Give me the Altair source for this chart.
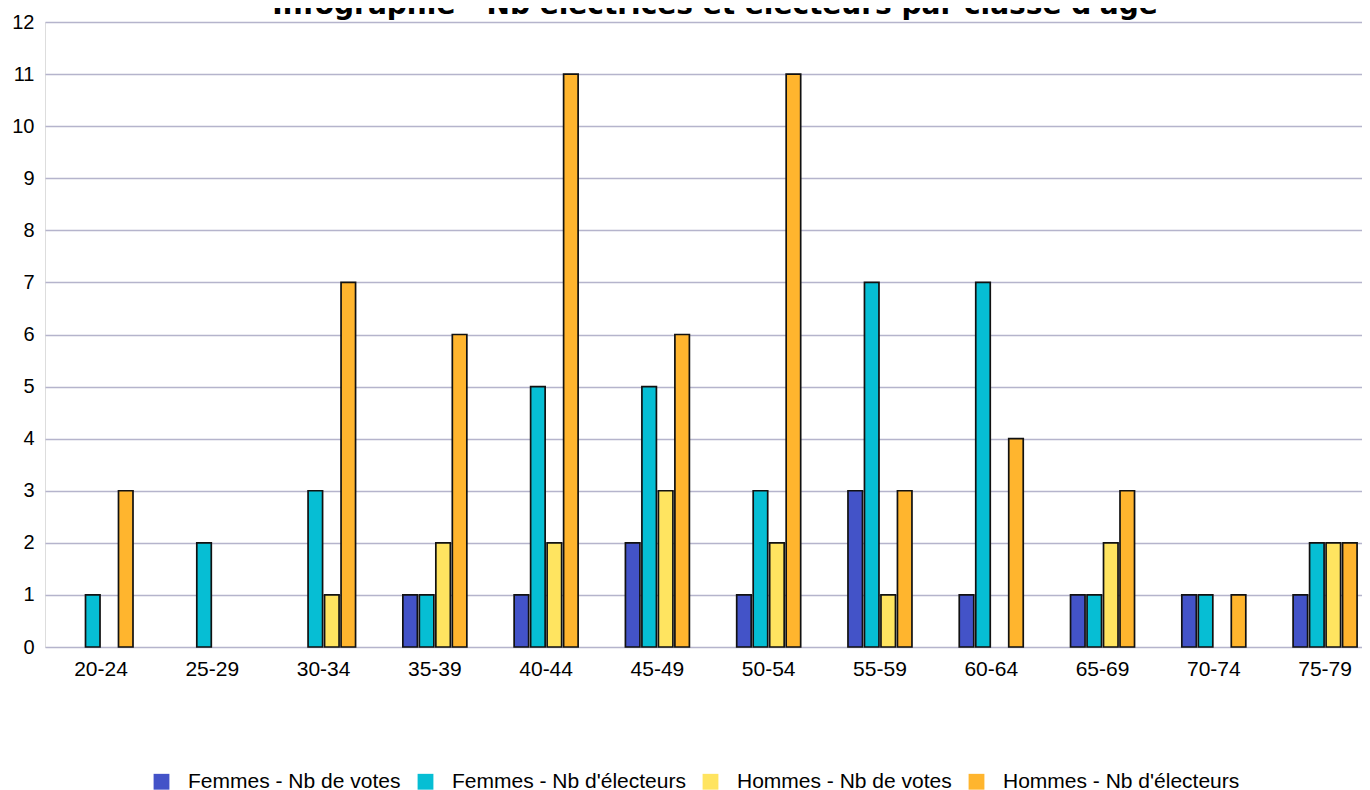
import altair as alt
import pandas as pd

categories = ["20-24", "25-29", "30-34", "35-39", "40-44", "45-49",
              "50-54", "55-59", "60-64", "65-69", "70-74", "75-79"]
series_names = ["Femmes - Nb de votes", "Femmes - Nb d'électeurs",
                "Hommes - Nb de votes", "Hommes - Nb d'électeurs"]
femmes_votes = [0, 0, 0, 1, 1, 2, 1, 3, 1, 1, 1, 1]
femmes_electeurs = [1, 2, 3, 1, 5, 5, 3, 7, 7, 1, 1, 2]
hommes_votes = [0, 0, 1, 2, 2, 3, 2, 1, 0, 2, 0, 2]
hommes_electeurs = [3, 0, 7, 6, 11, 6, 11, 3, 4, 3, 1, 2]
colors = ["#4353C8", "#06BED4", "#FFE460", "#FFB52E"]
title_text = "Infographie - Nb électrices et électeurs par classe d'âge"

rows = []
for name, vals in zip(series_names, [femmes_votes, femmes_electeurs, hommes_votes, hommes_electeurs]):
    for c, v in zip(categories, vals):
        rows.append({"classe": c, "serie": name, "valeur": v})
df = pd.DataFrame(rows)

bars = alt.Chart(df).transform_filter(
    alt.datum.valeur > 0
).mark_bar(stroke="#111111", strokeWidth=1.7).encode(
    x=alt.X("classe:N", sort=categories, title=None,
            scale=alt.Scale(paddingInner=0.425, paddingOuter=0.13, align=0.83),
            axis=alt.Axis(labelAngle=0, labelFont="Liberation Sans", labelFontSize=21,
                          labelColor="#000000", labelPadding=11, ticks=False, domain=False)),
    xOffset=alt.XOffset("serie:N", sort=series_names,
                        scale=alt.Scale(paddingInner=0.12, paddingOuter=0)),
    y=alt.Y("valeur:Q", title=None,
            scale=alt.Scale(domain=[0, 12], nice=False),
            axis=alt.Axis(values=list(range(13)), labelFont="Liberation Sans", labelFontSize=20,
                          labelColor="#000000", labelPadding=11, ticks=False, domain=False,
                          grid=True, gridColor="#B5B4CC", gridWidth=1.5)),
    color=alt.Color("serie:N", sort=series_names,
                    scale=alt.Scale(domain=series_names, range=colors),
                    legend=alt.Legend(title=None, orient="none", direction="horizontal",
                                      legendX=106, legendY=749, symbolType="square",
                                      symbolSize=250, symbolStrokeWidth=0,
                                      labelFont="Liberation Sans", labelFontSize=21,
                                      labelColor="#000000", labelOffset=16, labelLimit=0,
                                      columnPadding=14)),
)

title = alt.Chart(pd.DataFrame({"t": [title_text]})).mark_text(
    font="DejaVu Sans", fontSize=28, fontWeight="bold", color="#000000",
    align="center", baseline="alphabetic"
).encode(
    text="t:N",
    x=alt.value(670),
    y=alt.value(-8),
)

chart = alt.layer(bars, title).properties(
    width=1317,
    height=625,
    autosize=alt.AutoSizeParams(type="none"),
    padding={"left": 37, "top": 14, "right": 0, "bottom": 143},
).configure_view(
    fill="#EEEDF3", stroke=None
).configure(background="#FFFFFF")

chart.save("out.html", embed_options={"renderer": "svg", "actions": False})
